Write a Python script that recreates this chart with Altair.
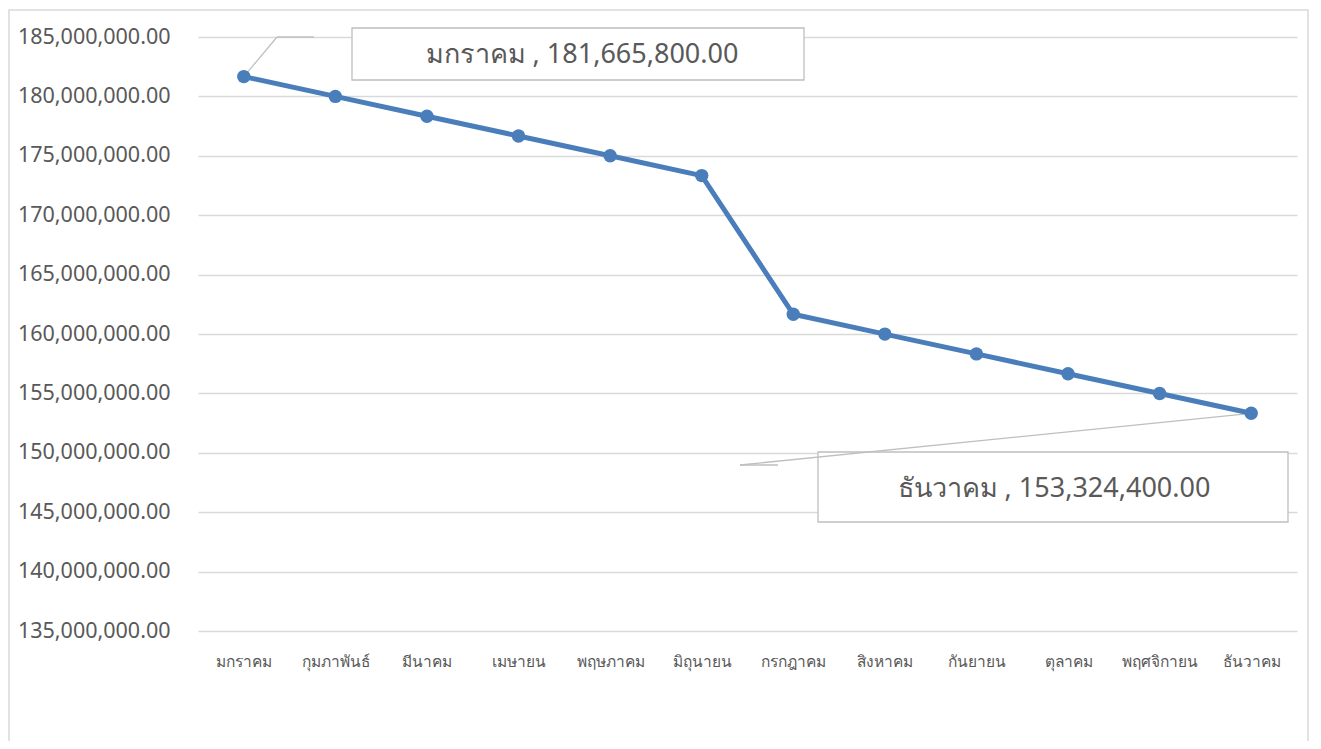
import altair as alt
import pandas as pd

months = ["มกราคม", "กุมภาพันธ์", "มีนาคม", "เมษายน", "พฤษภาคม", "มิถุนายน",
          "กรกฎาคม", "สิงหาคม", "กันยายน", "ตุลาคม", "พฤศจิกายน", "ธันวาคม"]
values = [181665800, 179999100, 178332400, 176665700, 174999000, 173332300,
          161657900, 159991200, 158324500, 156657800, 154991100, 153324400]
y_ticks = [135000000, 140000000, 145000000, 150000000, 155000000,
           160000000, 165000000, 170000000, 175000000, 180000000, 185000000]

df = pd.DataFrame({"month": months, "value": values})

FONT = "Noto Sans"
GRAY = "#595959"
BLUE = "#4a7ebb"

x_enc = alt.X("month:N", sort=months,
              scale=alt.Scale(type="point", padding=0.5),
              axis=alt.Axis(title=None, labelAngle=0, domain=False, ticks=False,
                            labelPadding=23, labelFontSize=15.5, labelColor=GRAY,
                            labelFont=FONT, grid=False))
y_enc = alt.Y("value:Q",
              scale=alt.Scale(domain=[135000000, 185000000], nice=False, zero=False),
              axis=alt.Axis(title=None, values=y_ticks, format=",.2f", domain=False,
                            ticks=False, labelPadding=28, labelFontSize=21.5,
                            labelColor=GRAY, labelFont=FONT,
                            gridColor="#d9d9d9", gridWidth=1.3))

base = alt.Chart(df)

one = pd.DataFrame({"k": [0]})

border = alt.Chart(one).mark_rect(fill="transparent", stroke="#d9d9d9", strokeWidth=1.5).encode(
    x=alt.value(-189), x2=alt.value(1110), y=alt.value(-27), y2=alt.value(900))

box_jan = alt.Chart(one).mark_rect(fill="white", stroke="#bfbfbf", strokeWidth=1.3).encode(
    x=alt.value(154), x2=alt.value(606), y=alt.value(-9), y2=alt.value(43))
box_dec = alt.Chart(one).mark_rect(fill="white", stroke="#bfbfbf", strokeWidth=1.3).encode(
    x=alt.value(620), x2=alt.value(1090), y=alt.value(415), y2=alt.value(485))

lead_style = dict(color="#bfbfbf", strokeWidth=1.3)
lead_jan = base.transform_filter(alt.datum.month == months[0]).mark_rule(**lead_style).encode(
    x=x_enc, y=y_enc, x2=alt.value(79), y2=alt.value(0))
lead_jan_h = alt.Chart(one).mark_rule(**lead_style).encode(
    x=alt.value(79), x2=alt.value(116), y=alt.value(0))
lead_dec = base.transform_filter(alt.datum.month == months[-1]).mark_rule(**lead_style).encode(
    x=x_enc, y=y_enc, x2=alt.value(542), y2=alt.value(428))
lead_dec_h = alt.Chart(one).mark_rule(**lead_style).encode(
    x=alt.value(542), x2=alt.value(580), y=alt.value(428))

line = base.mark_line(color=BLUE, strokeWidth=5).encode(x=x_enc, y=y_enc)
pts = base.mark_point(filled=True, color=BLUE, size=180, opacity=1).encode(x=x_enc, y=y_enc)

lab_df = pd.DataFrame({
    "label": [f"{months[0]} ,  {values[0]:,.2f}", f"{months[-1]} , {values[-1]:,.2f}"],
    "which": ["jan", "dec"],
})
txt_jan = alt.Chart(lab_df).transform_filter(alt.datum.which == "jan").mark_text(
    font=FONT, fontSize=27, color=GRAY, align="center", baseline="middle").encode(
    text="label:N", x=alt.value(384), y=alt.value(18))
txt_dec = alt.Chart(lab_df).transform_filter(alt.datum.which == "dec").mark_text(
    font=FONT, fontSize=27, color=GRAY, align="center", baseline="middle").encode(
    text="label:N", x=alt.value(856), y=alt.value(452))

chart = alt.layer(
    border, box_jan, box_dec, lead_jan, lead_jan_h, lead_dec, lead_dec_h,
    line, pts, txt_jan, txt_dec
).properties(
    width=1099, height=594,
    autosize=alt.AutoSizeParams(type="none"),
    padding={"left": 190, "top": 29, "right": 16, "bottom": 110},
    background="white",
).configure_view(stroke=None)

chart.save("out.html", embed_options={"renderer": "svg", "actions": False})
